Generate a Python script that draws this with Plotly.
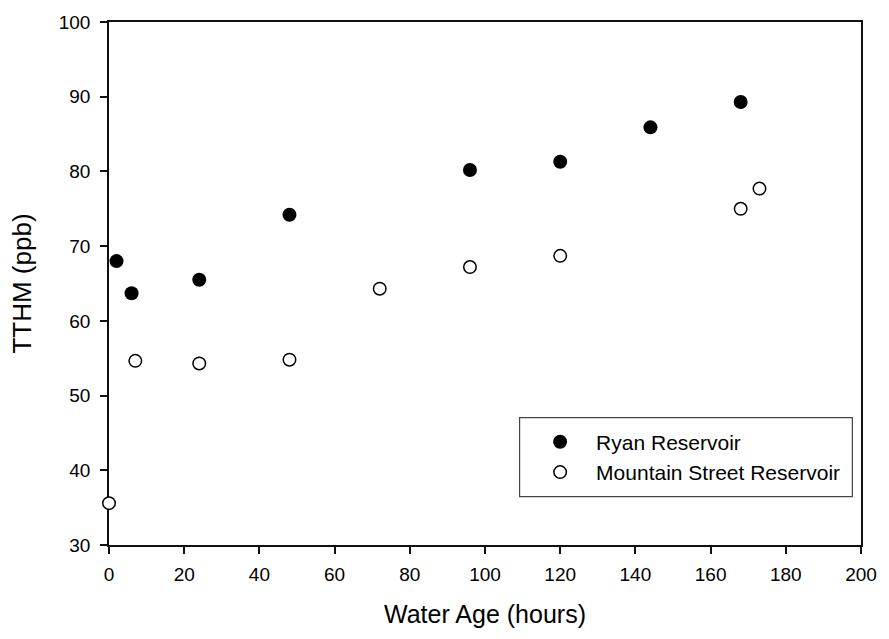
import plotly.graph_objects as go

# Ryan Reservoir (filled circles)
ryan_age = [2, 6, 24, 48, 96, 120, 144, 168]
ryan_tthm = [68.0, 63.7, 65.5, 74.2, 80.2, 81.3, 85.9, 89.3]

# Mountain Street Reservoir (open circles)
mtn_age = [0, 7, 24, 48, 72, 96, 120, 168, 173]
mtn_tthm = [35.6, 54.65, 54.3, 54.8, 64.3, 67.2, 68.7, 75.0, 77.7]

x_ticks = [0, 20, 40, 60, 80, 100, 120, 140, 160, 180, 200]
y_ticks = [30, 40, 50, 60, 70, 80, 90, 100]

FONT = "Arial, Liberation Sans, Helvetica, sans-serif"

fig = go.Figure()
fig.add_trace(go.Scatter(
    x=ryan_age, y=ryan_tthm, mode="markers", name="Ryan Reservoir",
    marker=dict(symbol="circle", size=14, color="black", line=dict(width=0)),
    cliponaxis=False,
))
fig.add_trace(go.Scatter(
    x=mtn_age, y=mtn_tthm, mode="markers", name="Mountain Street Reservoir",
    marker=dict(symbol="circle", size=12.5, color="white",
                line=dict(width=1.5, color="black")),
    cliponaxis=False,
))

axis_common = dict(
    showline=True, linecolor="#111", linewidth=1.5, mirror=True,
    showgrid=False, zeroline=False, ticks="outside", ticklen=7,
    tickwidth=1.5, tickcolor="#111", layer="below traces",
    tickfont=dict(family=FONT, size=19, color="black"),
)

fig.update_xaxes(
    range=[0, 200], tickvals=x_ticks, ticktext=[str(v) for v in x_ticks],
    title=dict(text="Water Age (hours)", standoff=22,
               font=dict(family=FONT, size=25, color="black")),
    ticklabelstandoff=4,
    **axis_common,
)
fig.update_yaxes(
    range=[30, 100], tickvals=y_ticks, ticktext=[str(v) for v in y_ticks],
    title=dict(text="TTHM (ppb)", standoff=20,
               font=dict(family=FONT, size=26, color="black")),
    ticklabelstandoff=6,
    **axis_common,
)

# legend frame
fig.add_shape(type="rect", xref="paper", yref="paper",
              x0=0.546, x1=0.9885, y0=0.0925, y1=0.2434,
              line=dict(color="#444", width=1.2), fillcolor="white",
              layer="below")

fig.update_layout(
    width=889, height=639,
    margin=dict(l=109, r=22, t=15, b=94),
    paper_bgcolor="white", plot_bgcolor="white",
    font=dict(family=FONT, color="black"),
    showlegend=True,
    legend=dict(
        x=0.552, y=0.168, xanchor="left", yanchor="middle",
        bgcolor="rgba(0,0,0,0)", borderwidth=0,
        itemwidth=62, font=dict(family=FONT, size=21, color="black"),
        tracegroupgap=0,
    ),
)

fig.write_html("out.html")
